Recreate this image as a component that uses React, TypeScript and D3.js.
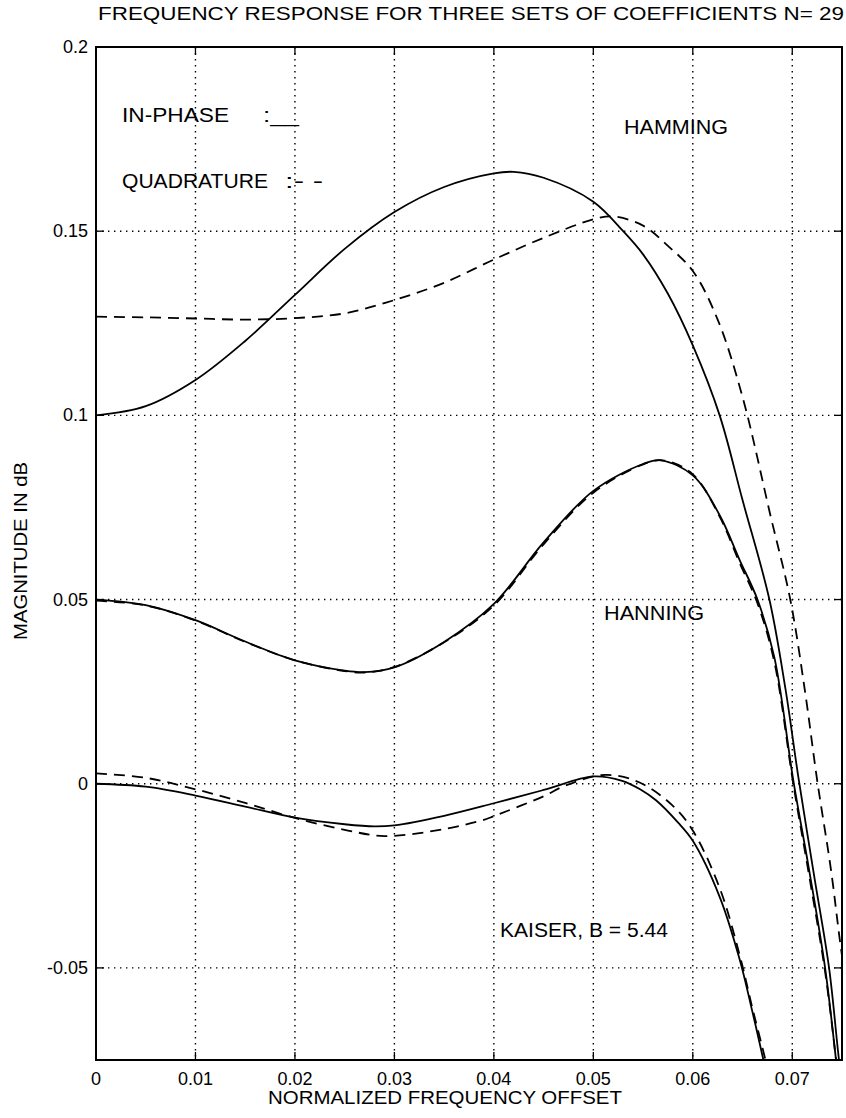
import React from "react";
import * as d3 from "d3";

// ---- data ----
const hammingIX = [0, 0.005, 0.01, 0.015, 0.02, 0.025, 0.03, 0.035, 0.04, 0.042, 0.045, 0.05, 0.053, 0.055, 0.0575, 0.06, 0.0627, 0.065, 0.0677, 0.0693, 0.0706, 0.0722, 0.0737, 0.0747, 0.0752];
const hammingIY = [0.1, 0.1025, 0.1096, 0.1202, 0.1327, 0.1452, 0.1552, 0.162, 0.1657, 0.1661, 0.1645, 0.158, 0.15, 0.1437, 0.133, 0.119, 0.1, 0.077, 0.05, 0.026, 0.002, -0.025, -0.05, -0.075, -0.085];

const hammingQX = [0, 0.005, 0.01, 0.015, 0.02, 0.025, 0.03, 0.035, 0.04, 0.045, 0.05, 0.052, 0.055, 0.0575, 0.06, 0.0625, 0.065, 0.0678, 0.0698, 0.0713, 0.0725, 0.0739, 0.0748, 0.0755];
const hammingQY = [0.1268, 0.1266, 0.1263, 0.126, 0.1264, 0.1277, 0.1313, 0.136, 0.1423, 0.1482, 0.1532, 0.154, 0.1515, 0.146, 0.1392, 0.126, 0.105, 0.0729, 0.05, 0.0247, 0.001, -0.0235, -0.0428, -0.056];

const hanningIX = [0, 0.005, 0.01, 0.015, 0.02, 0.025, 0.027, 0.03, 0.035, 0.04, 0.045, 0.05, 0.055, 0.0568, 0.06, 0.0627, 0.0647, 0.0665, 0.0682, 0.0701, 0.0717, 0.0733, 0.0744, 0.0748];
const hanningIY = [0.05, 0.0485, 0.0444, 0.0386, 0.0335, 0.0307, 0.0303, 0.0316, 0.0385, 0.0488, 0.0655, 0.0795, 0.0868, 0.0878, 0.0837, 0.0729, 0.0608, 0.05, 0.0343, 0.001, -0.0235, -0.05, -0.075, -0.085];

const hanningQX = [0, 0.005, 0.01, 0.015, 0.02, 0.025, 0.027, 0.03, 0.035, 0.04, 0.045, 0.05, 0.055, 0.057, 0.06, 0.0627, 0.0647, 0.0665, 0.0682, 0.0701, 0.0717, 0.0733, 0.0744, 0.0748];
const hanningQY = [0.0497, 0.0484, 0.0443, 0.0385, 0.0335, 0.0306, 0.0302, 0.0317, 0.0384, 0.0484, 0.065, 0.079, 0.0867, 0.0878, 0.084, 0.0725, 0.06, 0.049, 0.033, 0.0, -0.025, -0.051, -0.075, -0.085];

const kaiserIX = [0, 0.005, 0.01, 0.015, 0.02, 0.025, 0.028, 0.03, 0.035, 0.04, 0.045, 0.05, 0.0529, 0.0547, 0.0563, 0.0585, 0.06, 0.0627, 0.0647, 0.066, 0.0671, 0.0674];
const kaiserIY = [0, -0.0008, -0.0032, -0.0062, -0.0092, -0.011, -0.0116, -0.0113, -0.0087, -0.0053, -0.0017, 0.002, 0.0008, -0.0015, -0.0045, -0.0105, -0.0155, -0.0307, -0.0476, -0.062, -0.075, -0.079];

const kaiserQX = [0, 0.005, 0.01, 0.015, 0.02, 0.025, 0.029, 0.035, 0.039, 0.04, 0.045, 0.0472, 0.0512, 0.0546, 0.058, 0.06, 0.0627, 0.0647, 0.066, 0.0673, 0.0676];
const kaiserQY = [0.0028, 0.0016, -0.0015, -0.0052, -0.0093, -0.0125, -0.0142, -0.0123, -0.0098, -0.0088, -0.0034, -0.0005, 0.0024, 0.0004, -0.006, -0.0127, -0.0283, -0.0464, -0.061, -0.075, -0.079];

const xTicks = [0, 0.01, 0.02, 0.03, 0.04, 0.05, 0.06, 0.07];
const xTickLabels = ["0", "0.01", "0.02", "0.03", "0.04", "0.05", "0.06", "0.07"];
const yTicks = [-0.05, 0, 0.05, 0.1, 0.15, 0.2];
const yTickLabels = ["-0.05", "0", "0.05", "0.1", "0.15", "0.2"];

const titleText = "FREQUENCY RESPONSE FOR THREE SETS OF COEFFICIENTS  N= 29";
const xLabel = "NORMALIZED FREQUENCY OFFSET";
const yLabel = "MAGNITUDE IN dB";

const W = 846;
const H = 1118;
const L = 96, T = 47, R = 842, B = 1060;
const FONT = "'Liberation Sans', Arial, Helvetica, sans-serif";

export default function App() {
  const x = d3.scaleLinear().domain([0, 0.075]).range([L, R]);
  const y = d3.scaleLinear().domain([-0.075, 0.2]).range([B, T]);
  const line = d3
    .line<[number, number]>()
    .x((d) => x(d[0]))
    .y((d) => y(d[1]))
    .curve(d3.curveCatmullRom.alpha(0.5));
  const zip = (a: number[], b: number[]) => a.map((v, i) => [v, b[i]] as [number, number]);

  const series = [
    { d: zip(hammingIX, hammingIY), dash: undefined },
    { d: zip(hammingQX, hammingQY), dash: "11,7" },
    { d: zip(hanningIX, hanningIY), dash: undefined },
    { d: zip(hanningQX, hanningQY), dash: "11,7" },
    { d: zip(kaiserIX, kaiserIY), dash: undefined },
    { d: zip(kaiserQX, kaiserQY), dash: "11,7" },
  ];

  const ann = (s: string, xx: number, yy: number, len: number) => (
    <text x={xx} y={yy} fontSize={20} textLength={len} lengthAdjust="spacingAndGlyphs">
      {s}
    </text>
  );

  return (
    <svg width={W} height={H} style={{ position: "absolute", left: 0, top: 0, background: "#fff" }} fontFamily={FONT}>
      <defs>
        <clipPath id="plot">
          <rect x={L} y={T} width={R - L} height={B - T} />
        </clipPath>
      </defs>
      <rect x={0} y={0} width={W} height={H} fill="#fff" />
      {/* grid */}
      {xTicks.slice(1).map((t) => (
        <line key={"gx" + t} x1={x(t)} x2={x(t)} y1={T} y2={B} stroke="#000" strokeWidth={1.4} strokeDasharray="1.4,4.6" />
      ))}
      {yTicks.map((t) => (
        <line key={"gy" + t} x1={L} x2={R} y1={y(t)} y2={y(t)} stroke="#000" strokeWidth={1.4} strokeDasharray="1.4,4.6" />
      ))}
      {/* ticks */}
      {xTicks.map((t) => (
        <g key={"tx" + t}>
          <line x1={x(t)} x2={x(t)} y1={B} y2={B - 8} stroke="#000" strokeWidth={1.3} />
          <line x1={x(t)} x2={x(t)} y1={T} y2={T + 8} stroke="#000" strokeWidth={1.3} />
        </g>
      ))}
      {yTicks.map((t) => (
        <g key={"ty" + t}>
          <line x1={L} x2={L + 8} y1={y(t)} y2={y(t)} stroke="#000" strokeWidth={1.3} />
          <line x1={R} x2={R - 8} y1={y(t)} y2={y(t)} stroke="#000" strokeWidth={1.3} />
        </g>
      ))}
      {/* curves */}
      <g clipPath="url(#plot)">
        {series.map((s, i) => (
          <path key={i} d={line(s.d) || ""} fill="none" stroke="#000" strokeWidth={1.8} strokeDasharray={s.dash} />
        ))}
      </g>
      {/* frame */}
      <rect x={L} y={T} width={R - L} height={B - T} fill="none" stroke="#000" strokeWidth={2} />
      {/* tick labels */}
      {xTicks.map((t, i) => (
        <text key={"lx" + t} x={x(t)} y={1085} fontSize={18} textAnchor="middle">
          {xTickLabels[i]}
        </text>
      ))}
      {yTicks.map((t, i) => (
        <text key={"ly" + t} x={88} y={y(t) + 6} fontSize={18} textAnchor="end">
          {yTickLabels[i]}
        </text>
      ))}
      {/* titles */}
      <text x={98} y={20} fontSize={19} textLength={746} lengthAdjust="spacingAndGlyphs">
        {titleText}
      </text>
      <text x={268} y={1104} fontSize={19} textLength={354} lengthAdjust="spacingAndGlyphs">
        {xLabel}
      </text>
      <text transform="translate(27,640) rotate(-90)" fontSize={18} textLength={178} lengthAdjust="spacingAndGlyphs">
        {yLabel}
      </text>
      {/* annotations */}
      {ann("IN-PHASE", 122, 122, 107)}
      {ann(":__", 263, 122, 36)}
      {ann("QUADRATURE", 122, 188, 146)}
      {ann(":- -", 285, 188, 38)}
      {ann("HAMMING", 624, 134, 104)}
      {ann("HANNING", 604, 620, 100)}
      {ann("KAISER, B = 5.44", 500, 937, 168)}
    </svg>
  );
}
